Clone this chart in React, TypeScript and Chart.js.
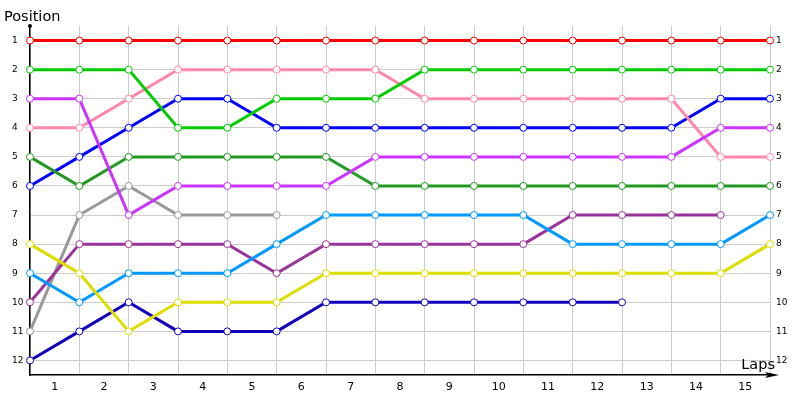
import React, { useEffect, useRef } from 'react';
import { Chart, registerables } from 'chart.js';
Chart.register(...registerables);

// lap labels shown between the grid lines
const lapLabels = ['1', '2', '3', '4', '5', '6', '7', '8', '9', '10', '11', '12', '13', '14', '15'];
const positionTicks = [1, 2, 3, 4, 5, 6, 7, 8, 9, 10, 11, 12];

// position of each driver at every grid line (start + 15 laps)
const red = [1, 1, 1, 1, 1, 1, 1, 1, 1, 1, 1, 1, 1, 1, 1, 1];
const green = [2, 2, 2, 4, 4, 3, 3, 3, 2, 2, 2, 2, 2, 2, 2, 2];
const magenta = [3, 3, 7, 6, 6, 6, 6, 5, 5, 5, 5, 5, 5, 5, 4, 4];
const pink = [4, 4, 3, 2, 2, 2, 2, 2, 3, 3, 3, 3, 3, 3, 5, 5];
const darkGreen = [5, 6, 5, 5, 5, 5, 5, 6, 6, 6, 6, 6, 6, 6, 6, 6];
const blue = [6, 5, 4, 3, 3, 4, 4, 4, 4, 4, 4, 4, 4, 4, 3, 3];
const yellow = [8, 9, 11, 10, 10, 10, 9, 9, 9, 9, 9, 9, 9, 9, 9, 8];
const lightBlue = [9, 10, 9, 9, 9, 8, 7, 7, 7, 7, 7, 8, 8, 8, 8, 7];
const darkPurple = [10, 8, 8, 8, 8, 9, 8, 8, 8, 8, 8, 7, 7, 7, 7];
const gray = [11, 7, 6, 7, 7, 7];
const navy = [12, 11, 10, 11, 11, 11, 10, 10, 10, 10, 10, 10, 10];

const drivers: { values: number[]; color: string }[] = [
  { values: red, color: '#ff0000' },
  { values: green, color: '#00cc00' },
  { values: magenta, color: '#cc33ff' },
  { values: pink, color: '#ff88aa' },
  { values: darkGreen, color: '#229922' },
  { values: blue, color: '#0000ff' },
  { values: yellow, color: '#dddd00' },
  { values: lightBlue, color: '#0099ff' },
  { values: darkPurple, color: '#993399' },
  { values: gray, color: '#999999' },
  { values: navy, color: '#1100bb' },
];

const axisDecor = {
  id: 'axisDecor',
  afterDraw(chart: any) {
    const { ctx, chartArea } = chart;
    const { left, right, top, bottom } = chartArea;
    ctx.save();
    ctx.fillStyle = '#000';
    ctx.strokeStyle = '#000';
    ctx.lineWidth = 1.5;
    // dot on top of the y axis
    ctx.beginPath();
    ctx.arc(left, top, 2, 0, Math.PI * 2);
    ctx.fill();
    // x axis runs past the last lap and ends in an arrow
    ctx.beginPath();
    ctx.moveTo(right, bottom);
    ctx.lineTo(right + 4, bottom);
    ctx.stroke();
    ctx.beginPath();
    ctx.moveTo(right + 9, bottom);
    ctx.lineTo(right - 5, bottom - 3);
    ctx.lineTo(right - 2, bottom);
    ctx.lineTo(right - 5, bottom + 3);
    ctx.closePath();
    ctx.fill();
    // axis names
    ctx.font = '14.5px "DejaVu Sans"';
    ctx.textBaseline = 'alphabetic';
    ctx.textAlign = 'left';
    ctx.fillText('Position', 4, 21);
    ctx.textAlign = 'right';
    ctx.fillText('Laps', 775, 369);
    ctx.restore();
  },
};

export default function App(): React.ReactElement {
  const canvasRef = useRef<HTMLCanvasElement | null>(null);
  const chartRef = useRef<Chart | null>(null);

  useEffect(() => {
    document.body.style.margin = '0';
    if (!canvasRef.current) return;
    const ctx = canvasRef.current.getContext('2d');
    if (!ctx) return;
    if (chartRef.current) chartRef.current.destroy();

    const tickFont = { family: '"DejaVu Sans"', size: 9 };

    chartRef.current = new Chart(ctx, {
      type: 'line',
      data: {
        datasets: drivers.map((d) => ({
          data: d.values.map((v, i) => ({ x: i, y: v })),
          borderColor: d.color,
          backgroundColor: d.color,
          borderWidth: 3,
          pointRadius: 3.5,
          pointBorderWidth: 1,
          pointBackgroundColor: '#ffffff',
          pointBorderColor: d.color,
          tension: 0,
          fill: false,
          clip: false as any,
        })),
      },
      options: {
        responsive: false,
        animation: false,
        layout: { padding: { left: 12, right: 0, top: 26, bottom: 0 } },
        plugins: {
          legend: { display: false },
          tooltip: { enabled: false },
        },
        scales: {
          x: {
            type: 'linear',
            min: 0,
            max: 15,
            afterBuildTicks: (scale: any) => {
              const t = [];
              for (let i = 0; i <= 30; i++) t.push({ value: i / 2 });
              scale.ticks = t;
            },
            afterFit: (scale: any) => {
              scale.height = 25;
            },
            ticks: {
              autoSkip: false,
              maxRotation: 0,
              padding: 6,
              color: '#000',
              font: { family: '"DejaVu Sans"', size: 11 },
              callback: (value: any) => {
                const v = Number(value);
                if (v % 1 === 0) return '';
                return lapLabels[Math.floor(v)];
              },
            },
            grid: {
              drawTicks: false,
              color: (c: any) => (c.tick && c.tick.value % 1 === 0 ? '#cccccc' : 'rgba(0,0,0,0)'),
            },
            border: { display: true, color: '#000', width: 1.5 },
          },
          y: {
            type: 'linear',
            position: 'left',
            reverse: true,
            min: 0.5,
            max: 12.5,
            afterBuildTicks: (scale: any) => {
              scale.ticks = positionTicks.map((v) => ({ value: v }));
            },
            afterFit: (scale: any) => {
              scale.width = 18;
            },
            ticks: {
              crossAlign: 'far',
              padding: 4,
              color: '#000',
              font: tickFont,
              callback: (value: any) => String(value),
            },
            grid: { drawTicks: false, color: '#cccccc' },
            border: { display: true, color: '#000', width: 1.5 },
          },
          y2: {
            type: 'linear',
            position: 'right',
            reverse: true,
            min: 0.5,
            max: 12.5,
            afterBuildTicks: (scale: any) => {
              scale.ticks = positionTicks.map((v) => ({ value: v }));
            },
            afterFit: (scale: any) => {
              scale.width = 30;
            },
            ticks: {
              crossAlign: 'near',
              padding: 6,
              color: '#000',
              font: tickFont,
              callback: (value: any) => String(value),
            },
            grid: { display: false, drawTicks: false },
            border: { display: false },
          },
        },
      },
      plugins: [axisDecor],
    });

    return () => {
      if (chartRef.current) {
        chartRef.current.destroy();
        chartRef.current = null;
      }
    };
  }, []);

  return (
    <div style={{ width: 800, height: 400 }}>
      <canvas ref={canvasRef} width={800} height={400} style={{ width: '800px', height: '400px' }} />
    </div>
  );
}
